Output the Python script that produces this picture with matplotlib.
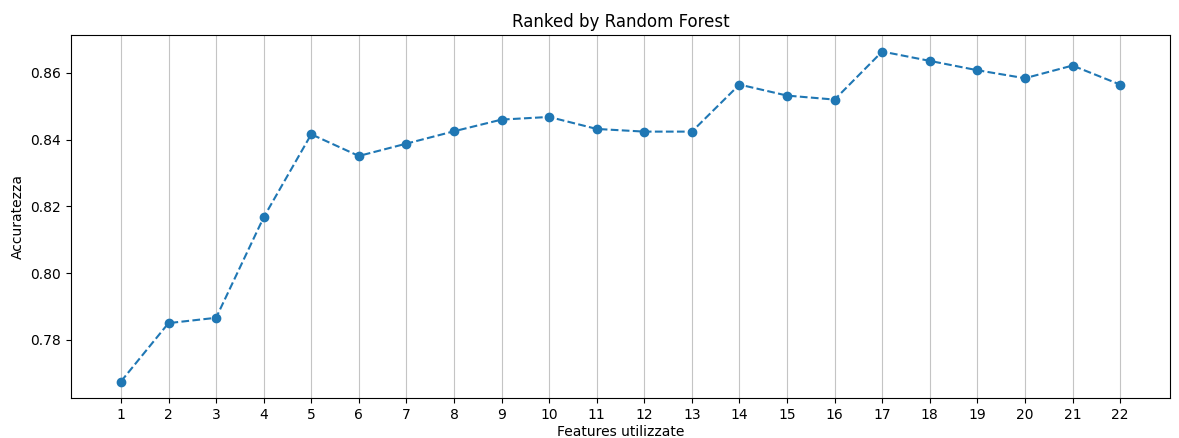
import numpy as np
import matplotlib
matplotlib.use('Agg')
import matplotlib.pyplot as plt

n_features = list(range(1, 23))
accuracy = [0.7675, 0.7850, 0.7866, 0.8167, 0.8416, 0.8351, 0.8388, 0.8425,
            0.8460, 0.8468, 0.8432, 0.8424, 0.8424, 0.8565, 0.8532, 0.8520,
            0.8664, 0.8636, 0.8608, 0.8584, 0.8622, 0.8565]

fig = plt.figure(figsize=(11.79, 4.38), dpi=100)
ax = fig.add_axes([0.0602, 0.0913, 0.9322, 0.8287])
ax.plot(n_features, accuracy, '--o', color='#1f77b4')
ax.set_xticks(n_features)
ax.grid(axis='x', color='#c4c4c4')
ax.set_title('Ranked by Random Forest')
ax.set_xlabel('Features utilizzate', labelpad=2)
ax.set_ylabel('Accuratezza')
fig.savefig('out.png', dpi=100)
